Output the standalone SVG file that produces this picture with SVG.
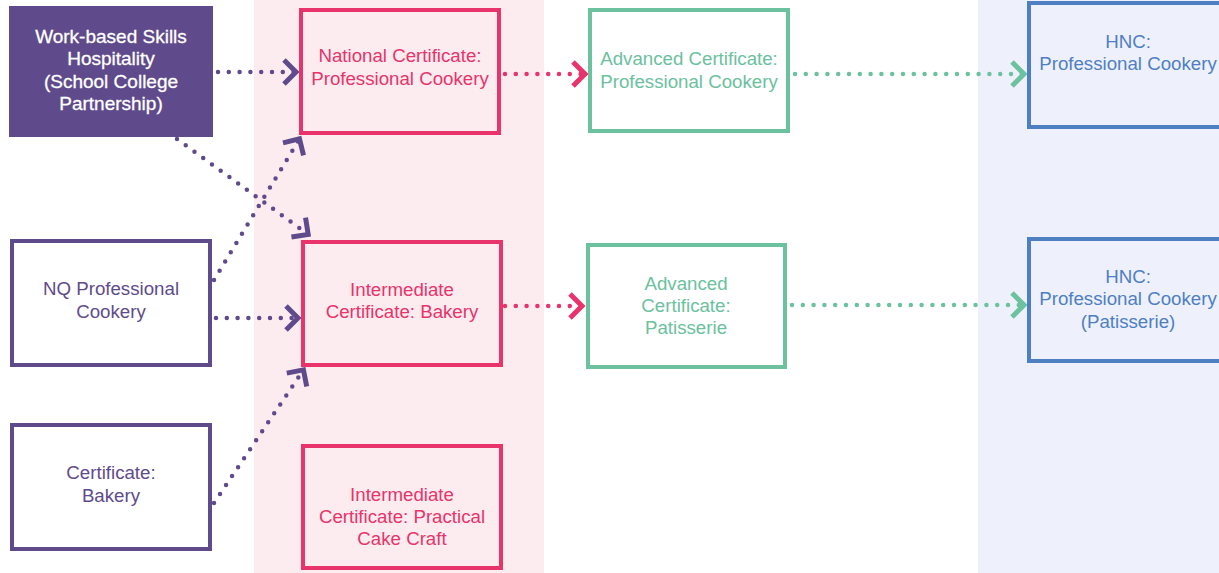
<svg xmlns="http://www.w3.org/2000/svg" width="1219" height="573" viewBox="0 0 1219 573">
<style>
text{font-family:"Liberation Sans",Arial,sans-serif;font-size:18.7px;text-anchor:middle}
.p{fill:#fff;stroke:#5f4b8b;stroke-width:4}
.k{fill:none;stroke:#e8336b;stroke-width:4}
.g{fill:#fff;stroke:#6cc19e;stroke-width:4}
.b{fill:none;stroke:#4f7fc3;stroke-width:4}
.tp{fill:#5f4b8b}.tk{fill:#e8336b}.tg{fill:#6cc19e}.tb{fill:#4f7fc3}
.w{fill:#fff;font-size:19px;stroke:#fff;stroke-width:0.3}
.c{fill:none;stroke-width:4.5;stroke-linecap:round;stroke-dasharray:0 10.8}
.cp{stroke:#5f4b8b;marker-end:url(#ap)}
.ck{stroke:#e8336b;marker-end:url(#ak)}
.cg{stroke:#6cc19e;marker-end:url(#ag)}
</style>
<defs>
<marker id="ap" markerUnits="userSpaceOnUse" viewBox="-20 -20 40 40" markerWidth="40" markerHeight="40" refX="0" refY="0" orient="auto"><path d="M-13,-12 L-1,0 L-13,12" fill="none" stroke="#5f4b8b" stroke-width="5"/></marker>
<marker id="ak" markerUnits="userSpaceOnUse" viewBox="-20 -20 40 40" markerWidth="40" markerHeight="40" refX="0" refY="0" orient="auto"><path d="M-13,-12 L-1,0 L-13,12" fill="none" stroke="#e8336b" stroke-width="5"/></marker>
<marker id="ag" markerUnits="userSpaceOnUse" viewBox="-20 -20 40 40" markerWidth="40" markerHeight="40" refX="0" refY="0" orient="auto"><path d="M-13,-12 L-1,0 L-13,12" fill="none" stroke="#6cc19e" stroke-width="5"/></marker>
</defs>
<rect width="1219" height="573" fill="#fff"/>
<rect x="254" y="0" width="290" height="573" fill="#fdecef"/>
<rect x="978" y="0" width="241" height="573" fill="#eef1fb"/>

<g id="connectors">
<path class="c cp" d="M218,72 L297,72"/>
<path class="c cp" d="M177,139 L309,235"/>
<path class="c cp" d="M214,280 L300,138"/>
<path class="c cp" d="M216,318 L299,318"/>
<path class="c cp" d="M214,503 L304,369"/>
<path class="c ck" d="M505,74 L586,74"/>
<path class="c ck" d="M505,306 L583,306"/>
<path class="c cg" d="M795,74 L1025,74"/>
<path class="c cg" d="M792,305 L1025,305"/>
</g>

<g id="n-workbased">
<rect x="9" y="6" width="204" height="131" fill="#5f4b8b"/>
<text class="w" x="111" y="43">Work-based Skills</text>
<text class="w" x="111" y="65">Hospitality</text>
<text class="w" x="111" y="88">(School College</text>
<text class="w" x="111" y="110">Partnership)</text>
</g>
<g id="n-nq">
<rect class="p" x="12" y="241" width="198" height="124"/>
<text class="tp" x="111" y="295">NQ Professional</text>
<text class="tp" x="111" y="318">Cookery</text>
</g>
<g id="n-certbakery">
<rect class="p" x="12" y="425" width="198" height="124"/>
<text class="tp" x="111" y="479">Certificate:</text>
<text class="tp" x="111" y="502">Bakery</text>
</g>
<g id="n-national">
<rect class="k" x="301" y="10" width="198" height="123"/>
<text class="tk" x="400" y="62">National Certificate:</text>
<text class="tk" x="400" y="85">Professional Cookery</text>
</g>
<g id="n-intbakery">
<rect class="k" x="303" y="242" width="198" height="123"/>
<text class="tk" x="402" y="296">Intermediate</text>
<text class="tk" x="402" y="318">Certificate: Bakery</text>
</g>
<g id="n-cake">
<rect class="k" x="303" y="446" width="198" height="122"/>
<text class="tk" x="402" y="501">Intermediate</text>
<text class="tk" x="402" y="523">Certificate: Practical</text>
<text class="tk" x="402" y="545">Cake Craft</text>
</g>
<g id="n-advcookery">
<rect class="g" x="590" y="10" width="198" height="121"/>
<text class="tg" x="689" y="65">Advanced Certificate:</text>
<text class="tg" x="689" y="88">Professional Cookery</text>
</g>
<g id="n-advpat">
<rect class="g" x="588" y="245" width="197" height="122"/>
<text class="tg" x="686" y="290">Advanced</text>
<text class="tg" x="686" y="312">Certificate:</text>
<text class="tg" x="686" y="334">Patisserie</text>
</g>
<g id="n-hnc">
<rect class="b" x="1029" y="3" width="200" height="124"/>
<text class="tb" x="1128" y="48">HNC:</text>
<text class="tb" x="1128" y="70">Professional Cookery</text>
</g>
<g id="n-hncpat">
<rect class="b" x="1029" y="239" width="200" height="122"/>
<text class="tb" x="1128" y="283">HNC:</text>
<text class="tb" x="1128" y="305">Professional Cookery</text>
<text class="tb" x="1128" y="328">(Patisserie)</text>
</g>
</svg>
